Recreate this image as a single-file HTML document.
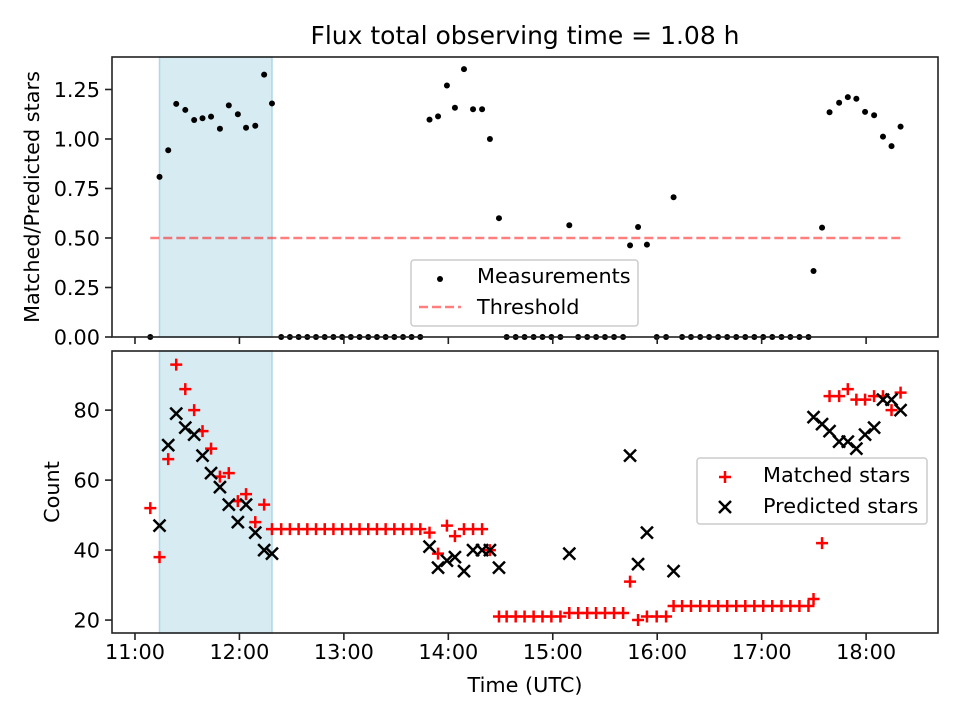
<!DOCTYPE html>
<html><head><meta charset="utf-8">
<style>
html,body{margin:0;padding:0;background:#fff;}
svg{display:block;font-family:"DejaVu Sans","Liberation Sans",sans-serif;}
</style></head>
<body>
<svg id="chart" width="960" height="720" viewBox="0 0 960 720" xmlns="http://www.w3.org/2000/svg"></svg>
<script>
// time in minutes after 11:00 UTC
const timesMin = [8.8,14.1,19.1,23.7,28.9,34.0,38.8,43.7,48.8,53.9,59.1,63.8,69.1,74.2,78.7,
84.0,89.0,94.0,99.0,104.0,109.0,114.0,119.0,124.0,129.0,134.0,139.0,144.0,149.0,154.0,158.9,163.9,
169.2,174.1,179.2,183.8,189.0,194.2,199.4,203.9,209.1,
213.5,218.7,223.8,229.0,234.1,239.2,244.4,
249.5,254.6,259.8,264.9,270.0,275.2,280.4,
284.4,289.0,294.1,299.7,305.1,309.4,
314.3,319.4,324.7,329.8,335.0,340.2,345.4,350.6,355.8,360.9,366.1,371.4,376.5,381.7,386.9,
389.8,394.7,399.0,404.5,409.5,414.4,419.4,424.6,429.7,434.6,439.8];
const matched = [52,38,66,93,86,80,74,69,61,62,54,56,48,53,46,
46,46,46,46,46,46,46,46,46,46,46,46,46,46,46,46,46,
45,39,47,44,46,46,46,40,21,
21,21,21,21,21,21,21,
22,22,22,22,22,22,22,
31,20,21,21,21,24,
24,24,24,24,24,24,24,24,24,24,24,24,24,24,24,
26,42,84,84,86,83,83,84,84,80,85];
const predicted = [null,47,70,79,75,73,67,62,58,53,48,53,45,40,39,
null,null,null,null,null,null,null,null,null,null,null,null,null,null,null,null,null,
41,35,37,38,34,40,40,40,35,
null,null,null,null,null,null,null,
39,null,null,null,null,null,null,
67,36,45,null,null,34,
null,null,null,null,null,null,null,null,null,null,null,null,null,null,null,
78,76,74,71,71,69,73,75,83,83,80];
const threshold = 0.5;
const shadeStartMin = 14.1, shadeEndMin = 78.7;
const xTickLabels = ["11:00","12:00","13:00","14:00","15:00","16:00","17:00","18:00"];
const topYTicks = [0,0.25,0.5,0.75,1.0,1.25];
const botYTicks = [20,40,60,80];

const svg = document.getElementById('chart');
const NS = 'http://www.w3.org/2000/svg';
function mk(tag, attrs, parent){const e=document.createElementNS(NS,tag);for(const k in attrs)e.setAttribute(k,attrs[k]);(parent||svg).appendChild(e);return e;}

const L=112,R=938;
const T1=57,B1=337,T2=351,B2=633;
const xMin=-13.2,xMax=461.3;
const FS=20.8;
const X = m => L + (m-xMin)/(xMax-xMin)*(R-L);
const Y1 = v => B1 - v/1.414*(B1-T1);
const Y2 = v => B2 - (v-16.3)/(96.9-16.3)*(B2-T2);

let t=mk('text',{x:525,y:44,'font-size':25,'text-anchor':'middle',fill:'#000'});t.textContent='Flux total observing time = 1.08 h';


function panel(top,bot,name){
  const g=mk('g',{});
  
  const s=mk('rect',{x:X(shadeStartMin),y:top,width:X(shadeEndMin)-X(shadeStartMin),height:bot-top,fill:'#add8e6','fill-opacity':0.5,stroke:'#add8e6','stroke-width':1.5},g);
  
  return g;
}
const g1=panel(T1,B1,'ratio-panel');
const g2=panel(T2,B2,'count-panel');

let th=mk('line',{x1:X(timesMin[0]),x2:X(timesMin[timesMin.length-1]),y1:Y1(threshold),y2:Y1(threshold),stroke:'#ff0000','stroke-opacity':0.5,'stroke-width':2.5,'stroke-dasharray':'9,4'},g1);


timesMin.forEach((m,i)=>{
  const p=predicted[i];
  const r=(p===null||p===undefined)?0:matched[i]/p;
  const c=mk('circle',{cx:X(m),cy:Y1(r),r:3,fill:'#000'},g1);
  
  
});

timesMin.forEach((m,i)=>{
  const x=X(m),y=Y2(matched[i]);
  const p=mk('path',{d:`M${x-6},${y}H${x+6}M${x},${y-6}V${y+6}`,stroke:'#ff0000','stroke-width':2.5,fill:'none'},g2);
  
  
});
timesMin.forEach((m,i)=>{
  if(predicted[i]===null)return;
  const x=X(m),y=Y2(predicted[i]);
  const p=mk('path',{d:`M${x-6},${y-6}L${x+6},${y+6}M${x-6},${y+6}L${x+6},${y-6}`,stroke:'#000','stroke-width':2.5,fill:'none'},g2);
  
  
});

[[T1,B1,'top'],[T2,B2,'bottom']].forEach(([top,bot,nm])=>{
  const f=mk('rect',{x:L,y:top,width:R-L,height:bot-top,fill:'none',stroke:'#222','stroke-width':1.6});
  
  xTickLabels.forEach((lab,i)=>{
    const x=X(i*60);
    mk('line',{x1:x,x2:x,y1:bot,y2:bot+7,stroke:'#222','stroke-width':1.6});
    if(nm==='bottom'){
      const tx=mk('text',{x:x,y:bot+26,'font-size':FS,'text-anchor':'middle',fill:'#000'});tx.textContent=lab;
      
    }
  });
});
topYTicks.forEach(v=>{
  const y=Y1(v);mk('line',{x1:L-7,x2:L,y1:y,y2:y,stroke:'#222','stroke-width':1.6});
  const tx=mk('text',{x:L-12,y:y+7.5,'font-size':FS,'text-anchor':'end',fill:'#000'});tx.textContent=v.toFixed(2);
  
});
botYTicks.forEach(v=>{
  const y=Y2(v);mk('line',{x1:L-7,x2:L,y1:y,y2:y,stroke:'#222','stroke-width':1.6});
  const tx=mk('text',{x:L-12,y:y+7.5,'font-size':FS,'text-anchor':'end',fill:'#000'});tx.textContent=String(v);
  
});

let a=mk('text',{x:0,y:0,'font-size':FS,'text-anchor':'middle',fill:'#000',transform:`translate(39,${(T1+B1)/2}) rotate(-90)`});a.textContent='Matched/Predicted stars';

a=mk('text',{x:0,y:0,'font-size':FS,'text-anchor':'middle',fill:'#000',transform:`translate(59,${(T2+B2)/2}) rotate(-90)`});a.textContent='Count';

a=mk('text',{x:525,y:692,'font-size':FS,'text-anchor':'middle',fill:'#000'});a.textContent='Time (UTC)';


let lg=mk('g',{});
mk('rect',{x:411,y:260,width:227,height:66,rx:3,fill:'#fff','fill-opacity':0.8,stroke:'#ccc','stroke-width':1.5},lg);
mk('circle',{cx:440,cy:279,r:3,fill:'#000'},lg);
let lt=mk('text',{x:477,y:283,'font-size':FS,fill:'#000'},lg);lt.textContent='Measurements';
mk('line',{x1:419,x2:461,y1:307,y2:307,stroke:'#ff0000','stroke-opacity':0.5,'stroke-width':2.5,'stroke-dasharray':'9,4'},lg);
lt=mk('text',{x:477,y:314,'font-size':FS,fill:'#000'},lg);lt.textContent='Threshold';

lg=mk('g',{});
mk('rect',{x:697,y:458,width:230,height:66,rx:3,fill:'#fff','fill-opacity':0.8,stroke:'#ccc','stroke-width':1.5},lg);
mk('path',{d:'M719,477H731M725,471V483',stroke:'#ff0000','stroke-width':2.5,fill:'none'},lg);
lt=mk('text',{x:763,y:482,'font-size':FS,fill:'#000'},lg);lt.textContent='Matched stars';
mk('path',{d:'M719,501L731,513M719,513L731,501',stroke:'#000','stroke-width':2.5,fill:'none'},lg);
lt=mk('text',{x:763,y:513,'font-size':FS,fill:'#000'},lg);lt.textContent='Predicted stars';
</script>
</body></html>
